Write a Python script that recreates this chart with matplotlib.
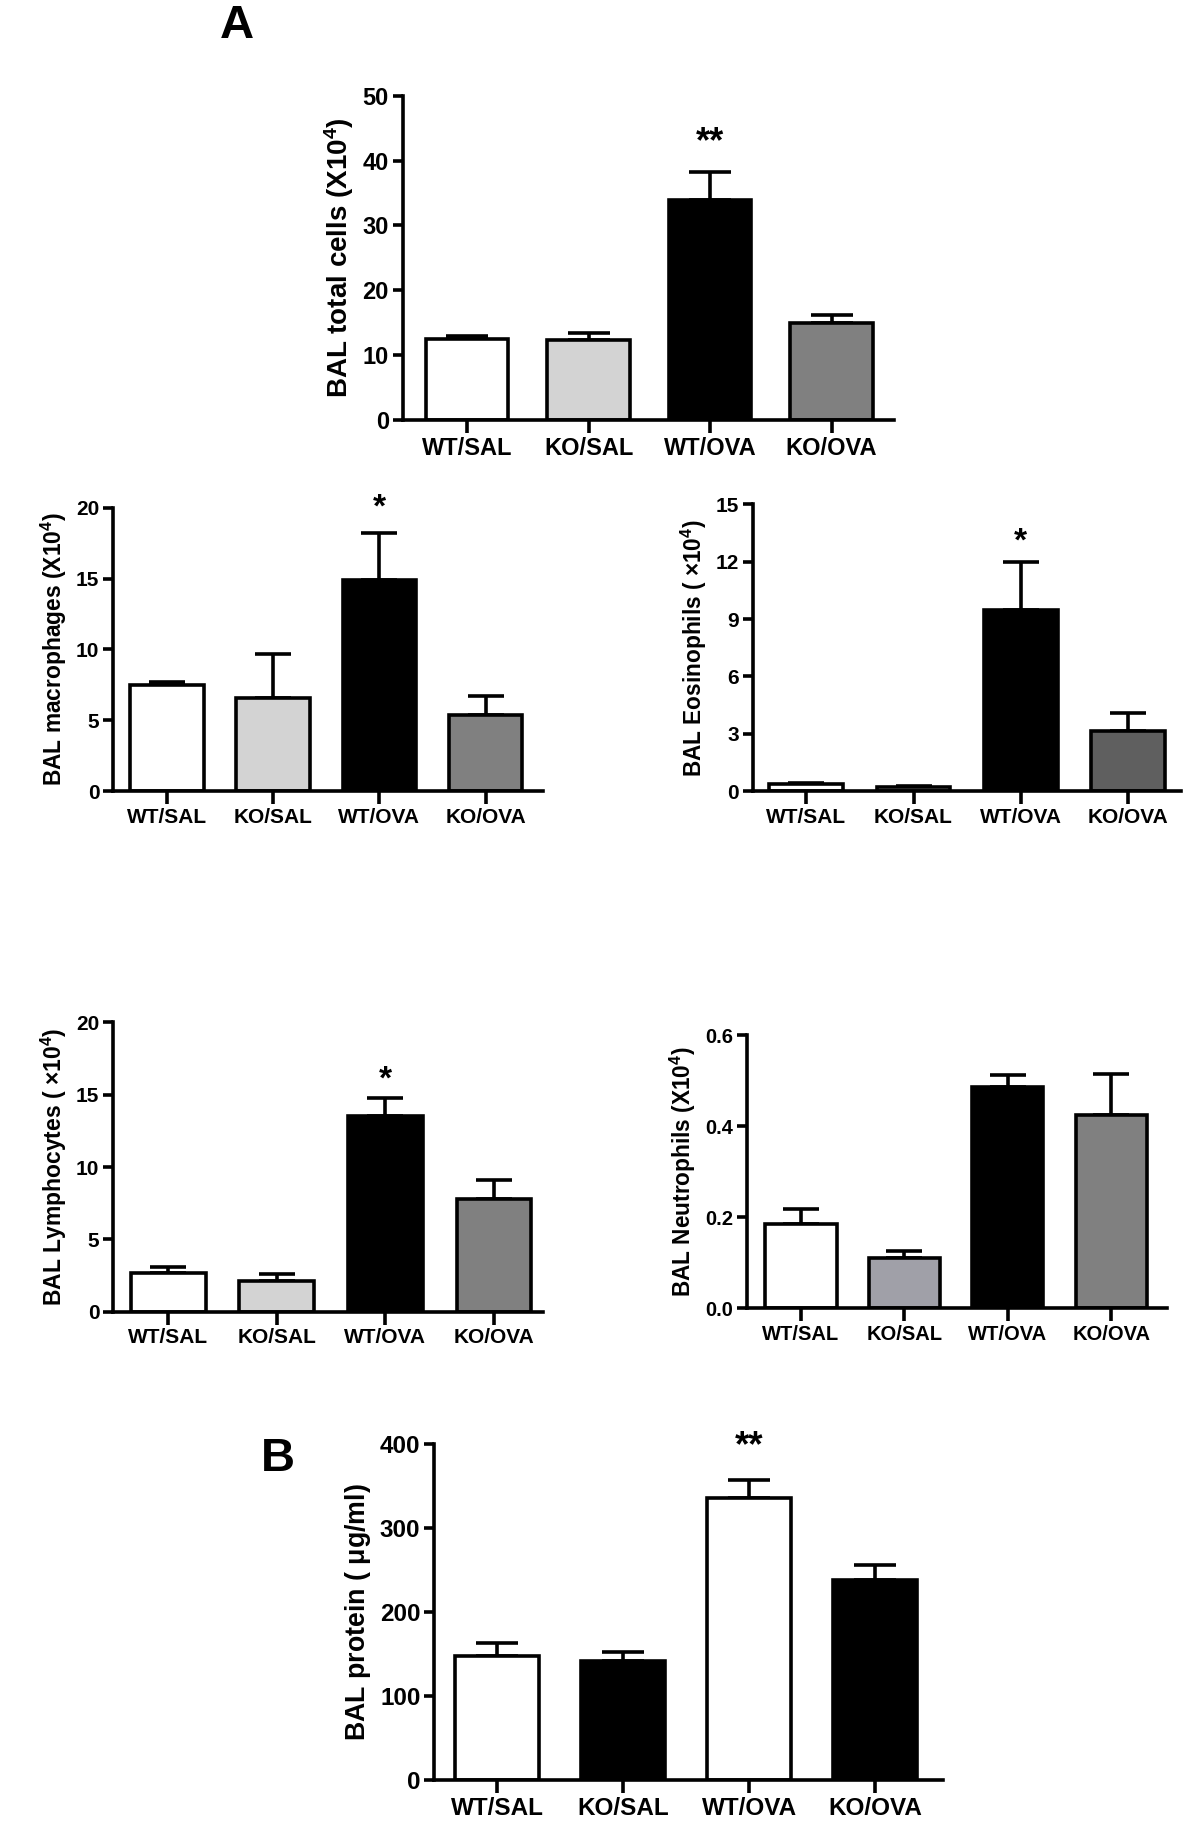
import matplotlib
matplotlib.use("Agg")
import matplotlib.pyplot as plt
import numpy as np

plt.rcParams['font.family'] = ['Liberation Sans', 'DejaVu Sans']
plt.rcParams['font.weight'] = 'bold'
plt.rcParams['mathtext.fontset'] = 'custom'
plt.rcParams['mathtext.rm'] = 'Liberation Sans'
plt.rcParams['mathtext.bf'] = 'Liberation Sans:bold'
plt.rcParams['mathtext.it'] = 'Liberation Sans:italic'

groups = ["WT/SAL", "KO/SAL", "WT/OVA", "KO/OVA"]

# panel data (means, upper error bar ends)
total_mean = [12.5, 12.4, 34.0, 15.0]
total_top = [13.0, 13.4, 38.2, 16.2]

macro_mean = [7.5, 6.6, 14.9, 5.4]
macro_top = [7.7, 9.7, 18.2, 6.7]

eos_mean = [0.4, 0.25, 9.45, 3.15]
eos_top = [0.45, 0.3, 12.0, 4.1]

lymph_mean = [2.7, 2.1, 13.5, 7.8]
lymph_top = [3.1, 2.6, 14.8, 9.1]

neut_mean = [0.185, 0.11, 0.487, 0.425]
neut_top = [0.218, 0.125, 0.513, 0.515]

prot_mean = [147, 141, 335, 238]
prot_top = [163, 152, 357, 256]

LW = 2.6


def panel(rect, means, tops, colors, ylim, yticks, ylabel, xlim, width,
          fs=16, yfs=16, star=None, star_y=None, ticklabels=None, capsize=13):
    ax = fig.add_axes(rect)
    x = np.arange(len(means))
    errs = np.array(tops) - np.array(means)
    ax.errorbar(x, means, yerr=[np.zeros(len(means)), errs], fmt='none',
                ecolor='black', elinewidth=LW, capsize=capsize, capthick=LW,
                zorder=1)
    ax.bar(x, means, width=width, color=colors, edgecolor='black',
           linewidth=LW, zorder=2)
    ax.set_xlim(*xlim)
    ax.set_ylim(*ylim)
    ax.set_yticks(yticks)
    if ticklabels is not None:
        ax.set_yticklabels(ticklabels)
    ax.set_xticks(x)
    ax.set_xticklabels(groups)
    for s in ['top', 'right']:
        ax.spines[s].set_visible(False)
    for s in ['left', 'bottom']:
        ax.spines[s].set_linewidth(LW)
    ax.tick_params(axis='both', width=LW, length=7, labelsize=fs, pad=3)
    ax.tick_params(axis='x', length=9)
    for lab in ax.get_xticklabels() + ax.get_yticklabels():
        lab.set_fontweight('bold')
    ax.set_ylabel(ylabel, fontsize=yfs, fontweight='bold', labelpad=5)
    if star:
        ax.text(2, star_y, star, ha='center', va='center', fontsize=fs + 9,
                fontweight='bold', clip_on=False)
    ax.patch.set_visible(False)
    return ax


fig = plt.figure(figsize=(12, 18.3), dpi=100)

c4 = ['white', '#d3d3d3', 'black', '#808080']

panel([0.3356, 0.7704, 0.409, 0.1773], total_mean, total_top, c4,
      (0, 50), [0, 10, 20, 30, 40, 50], r"BAL total cells (X10$^{\mathbf{4}}$)",
      (-0.53, 3.51), 0.68, fs=17, yfs=20, star="**", star_y=42.8, capsize=15)

panel([0.0944, 0.5676, 0.358, 0.155], macro_mean, macro_top, c4,
      (0, 20), [0, 5, 10, 15, 20], r"BAL macrophages (X10$^{\mathbf{4}}$)",
      (-0.505, 3.54), 0.69, fs=15, yfs=16.4, star="*", star_y=20.0)

panel([0.6274, 0.5676, 0.357, 0.1569], eos_mean, eos_top,
      ['white', '#d3d3d3', 'black', '#5f5f5f'],
      (0, 15), [0, 3, 6, 9, 12, 15], r"BAL Eosinophils ( $\times$10$^{\mathbf{4}}$)",
      (-0.50, 3.5), 0.69, fs=15, yfs=16.3, star="*", star_y=13.0)

panel([0.0944, 0.2832, 0.358, 0.1581], lymph_mean, lymph_top, c4,
      (0, 20), [0, 5, 10, 15, 20], r"BAL Lymphocytes ( $\times$10$^{\mathbf{4}}$)",
      (-0.505, 3.45), 0.69, fs=15, yfs=16.5, star="*", star_y=16.0)

panel([0.6226, 0.2851, 0.350, 0.1492], neut_mean, neut_top,
      ['white', '#a0a0a8', 'black', '#808080'],
      (0, 0.6), [0.0, 0.2, 0.4, 0.6], r"BAL Neutrophils (X10$^{\mathbf{4}}$)",
      (-0.52, 3.54), 0.69, fs=14.5, yfs=16.3,
      ticklabels=["0.0", "0.2", "0.4", "0.6"])

panel([0.3619, 0.0274, 0.4241, 0.1837], prot_mean, prot_top,
      ['white', 'black', 'white', 'black'],
      (0, 400), [0, 100, 200, 300, 400], r"BAL protein ( $\mathrm{\mu}$g/ml)",
      (-0.5, 3.54), 0.67, fs=17.5, yfs=19.3, star="**", star_y=397, capsize=15)

fig.text(0.197, 0.986, "A", fontsize=34, fontweight='bold', ha='center', va='center')
fig.text(0.2315, 0.203, "B", fontsize=34, fontweight='bold', ha='center', va='center')

fig.savefig("out.png", dpi=100, facecolor='white')
